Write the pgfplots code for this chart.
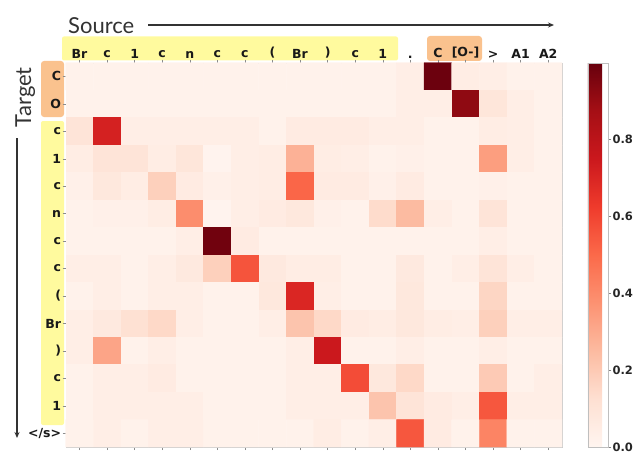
\documentclass[border=0pt]{standalone}
\usepackage{fontspec}
\setmainfont{DejaVu Sans}
\newfontfamily\latofont{Lato}
\usepackage{pgfplots}
\pgfplotsset{compat=1.18}
\usetikzlibrary{arrows.meta}
\definecolor{hlyellow}{RGB}{255,250,158}
\definecolor{hlorange}{RGB}{250,194,142}
\begin{document}
\begin{tikzpicture}
\useasboundingbox (0,0) rectangle (637pt,-452pt);
% highlight boxes
\fill[hlyellow, rounded corners=2pt] (62pt,-36.5pt) rectangle (398pt,-60.5pt);
\fill[hlorange, rounded corners=3pt] (427pt,-36pt) rectangle (482pt,-61pt);
\fill[hlorange, rounded corners=3pt] (41pt,-61pt) rectangle (64pt,-117pt);
\fill[hlyellow, rounded corners=2pt] (41pt,-121pt) rectangle (64pt,-425pt);
% Source / Target
\node[anchor=base west, inner sep=0pt, text=black!80] at (68pt,-34pt) {\latofont\fontsize{22}{24}\selectfont Source};
\draw[black!80, line width=1.1pt, -{Stealth[length=6pt,width=5pt]}] (148pt,-25pt) -- (554pt,-25pt);
\node[anchor=base east, rotate=90, inner sep=0pt, text=black!80] at (31pt,-67pt) {\latofont\fontsize{22}{24}\selectfont Target};
\draw[black!80, line width=1.1pt, -{Stealth[length=6pt,width=5pt]}] (17pt,-138pt) -- (17pt,-438pt);
\begin{axis}[
  at={(65.7pt,-62.7pt)}, anchor=north west,
  scale only axis, width=496.3pt, height=384.3pt,
  xmin=-0.5, xmax=17.5, ymin=-0.5, ymax=13.5,
  y dir=reverse,
  xtick={0,...,17}, ytick={0,...,13},
  xticklabels={Br,c,1,c,n,c,c,{(},Br,{)},c,1,.,C,{[O-]},{>},A1,A2},
  yticklabels={C,O,c,1,c,n,c,c,{(},Br,{)},c,1,{</s>}},
  xtick pos=both, xticklabel pos=upper, ytick pos=left,
  tick align=outside, major tick length=3pt,
  tick style={black!45, line width=0.4pt},
  axis line style={black!20, line width=0.4pt},
  tick label style={font=\bfseries\fontsize{12.5}{14}\selectfont, text=black!90},
  xticklabel style={inner sep=1.5pt},
  yticklabel style={inner sep=1.5pt},
  colormap={reds}{rgb255=(255,245,240) rgb255=(254,224,210) rgb255=(252,187,161) rgb255=(252,146,114) rgb255=(251,106,74) rgb255=(239,59,44) rgb255=(203,24,29) rgb255=(165,15,21) rgb255=(103,0,13)},
  point meta min=0, point meta max=1.0,
  colorbar,
  colorbar style={
    at={(parent axis.north east)}, anchor=north west, xshift=17.3pt,
    width=20.5pt,
    ytick={0,0.2,0.4,0.6,0.8},
    yticklabels={0.0,0.2,0.4,0.6,0.8},
    ytick pos=right, tick align=outside, major tick length=3pt,
    tick style={black!50},
    axis line style={black!25},
    yticklabel style={font=\bfseries\fontsize{11.5}{13}\selectfont, text=black!85, inner sep=1pt},
  },
]
\addplot[matrix plot*, mesh/cols=18, point meta=explicit] coordinates {
(0,0)[0.02] (1,0)[0.02] (2,0)[0.02] (3,0)[0.02] (4,0)[0.02] (5,0)[0.02] (6,0)[0.02] (7,0)[0.02] (8,0)[0.02] (9,0)[0.02] (10,0)[0.02] (11,0)[0.02] (12,0)[0.04] (13,0)[0.99] (14,0)[0.05] (15,0)[0.04] (16,0)[0.02] (17,0)[0.02]

(0,1)[0.02] (1,1)[0.02] (2,1)[0.02] (3,1)[0.02] (4,1)[0.02] (5,1)[0.02] (6,1)[0.02] (7,1)[0.02] (8,1)[0.02] (9,1)[0.02] (10,1)[0.02] (11,1)[0.02] (12,1)[0.04] (13,1)[0.04] (14,1)[0.92] (15,1)[0.09] (16,1)[0.04] (17,1)[0.02]

(0,2)[0.10] (1,2)[0.72] (2,2)[0.04] (3,2)[0.04] (4,2)[0.04] (5,2)[0.04] (6,2)[0.04] (7,2)[0.02] (8,2)[0.06] (9,2)[0.06] (10,2)[0.06] (11,2)[0.04] (12,2)[0.04] (13,2)[0.02] (14,2)[0.02] (15,2)[0.05] (16,2)[0.04] (17,2)[0.02]

(0,3)[0.05] (1,3)[0.10] (2,3)[0.10] (3,3)[0.05] (4,3)[0.09] (5,3)[0.01] (6,3)[0.04] (7,3)[0.05] (8,3)[0.28] (9,3)[0.05] (10,3)[0.04] (11,3)[0.02] (12,3)[0.03] (13,3)[0.02] (14,3)[0.02] (15,3)[0.34] (16,3)[0.04] (17,3)[0.02]

(0,4)[0.03] (1,4)[0.08] (2,4)[0.05] (3,4)[0.18] (4,4)[0.06] (5,4)[0.03] (6,4)[0.04] (7,4)[0.05] (8,4)[0.51] (9,4)[0.06] (10,4)[0.06] (11,4)[0.03] (12,4)[0.06] (13,4)[0.02] (14,4)[0.02] (15,4)[0.03] (16,4)[0.02] (17,4)[0.02]

(0,5)[0.02] (1,5)[0.03] (2,5)[0.03] (3,5)[0.05] (4,5)[0.39] (5,5)[0.01] (6,5)[0.04] (7,5)[0.06] (8,5)[0.08] (9,5)[0.03] (10,5)[0.02] (11,5)[0.14] (12,5)[0.25] (13,5)[0.04] (14,5)[0.02] (15,5)[0.10] (16,5)[0.02] (17,5)[0.02]

(0,6)[0.02] (1,6)[0.02] (2,6)[0.02] (3,6)[0.02] (4,6)[0.04] (5,6)[0.98] (6,6)[0.06] (7,6)[0.02] (8,6)[0.02] (9,6)[0.02] (10,6)[0.02] (11,6)[0.02] (12,6)[0.02] (13,6)[0.02] (14,6)[0.02] (15,6)[0.04] (16,6)[0.02] (17,6)[0.02]

(0,7)[0.04] (1,7)[0.04] (2,7)[0.02] (3,7)[0.04] (4,7)[0.07] (5,7)[0.18] (6,7)[0.56] (7,7)[0.07] (8,7)[0.05] (9,7)[0.05] (10,7)[0.02] (11,7)[0.02] (12,7)[0.07] (13,7)[0.02] (14,7)[0.04] (15,7)[0.10] (16,7)[0.04] (17,7)[0.02]

(0,8)[0.02] (1,8)[0.04] (2,8)[0.02] (3,8)[0.04] (4,8)[0.04] (5,8)[0.02] (6,8)[0.02] (7,8)[0.08] (8,8)[0.70] (9,8)[0.04] (10,8)[0.02] (11,8)[0.02] (12,8)[0.08] (13,8)[0.02] (14,8)[0.02] (15,8)[0.16] (16,8)[0.02] (17,8)[0.02]

(0,9)[0.04] (1,9)[0.07] (2,9)[0.12] (3,9)[0.15] (4,9)[0.04] (5,9)[0.02] (6,9)[0.02] (7,9)[0.04] (8,9)[0.22] (9,9)[0.15] (10,9)[0.06] (11,9)[0.05] (12,9)[0.08] (13,9)[0.05] (14,9)[0.04] (15,9)[0.18] (16,9)[0.04] (17,9)[0.04]

(0,10)[0.04] (1,10)[0.32] (2,10)[0.02] (3,10)[0.04] (4,10)[0.02] (5,10)[0.02] (6,10)[0.02] (7,10)[0.02] (8,10)[0.04] (9,10)[0.75] (10,10)[0.02] (11,10)[0.02] (12,10)[0.04] (13,10)[0.02] (14,10)[0.02] (15,10)[0.04] (16,10)[0.02] (17,10)[0.02]

(0,11)[0.02] (1,11)[0.04] (2,11)[0.04] (3,11)[0.06] (4,11)[0.02] (5,11)[0.02] (6,11)[0.02] (7,11)[0.02] (8,11)[0.04] (9,11)[0.04] (10,11)[0.58] (11,11)[0.08] (12,11)[0.15] (13,11)[0.02] (14,11)[0.02] (15,11)[0.20] (16,11)[0.02] (17,11)[0.04]

(0,12)[0.02] (1,12)[0.04] (2,12)[0.04] (3,12)[0.04] (4,12)[0.04] (5,12)[0.02] (6,12)[0.02] (7,12)[0.02] (8,12)[0.04] (9,12)[0.04] (10,12)[0.04] (11,12)[0.22] (12,12)[0.10] (13,12)[0.06] (14,12)[0.04] (15,12)[0.55] (16,12)[0.04] (17,12)[0.04]

(0,13)[0.02] (1,13)[0.04] (2,13)[0.02] (3,13)[0.04] (4,13)[0.04] (5,13)[0.02] (6,13)[0.02] (7,13)[0.02] (8,13)[0.02] (9,13)[0.05] (10,13)[0.02] (11,13)[0.04] (12,13)[0.55] (13,13)[0.06] (14,13)[0.02] (15,13)[0.42] (16,13)[0.02] (17,13)[0.02]
};
\end{axis}
\end{tikzpicture}
\end{document}
